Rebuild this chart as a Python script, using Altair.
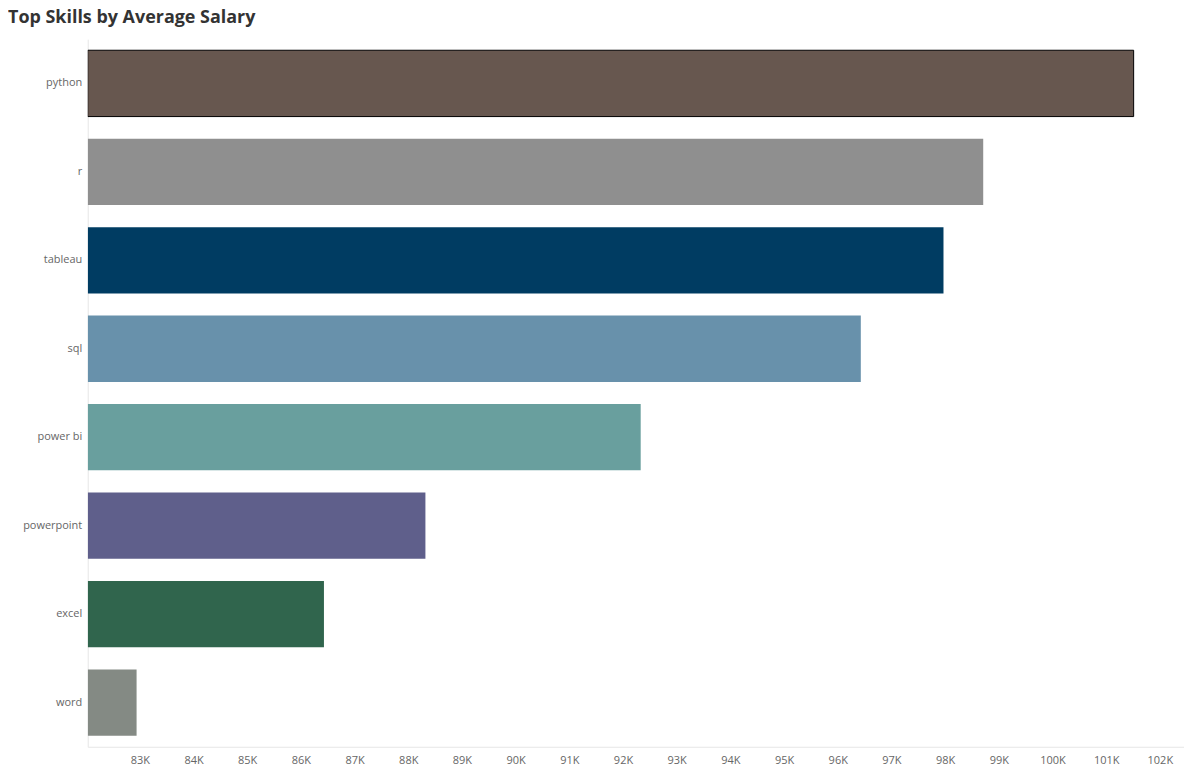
import altair as alt
import pandas as pd

# Average salary per skill (in thousands of dollars)
skills = ['python', 'r', 'tableau', 'sql', 'power bi', 'powerpoint', 'excel', 'word']
salaries = [101.512, 98.71, 97.97, 96.43, 92.33, 88.32, 86.43, 82.94]
colors = ['#67574f', '#8f8f8f', '#003c62', '#6891ab', '#699f9e', '#5f5f8b', '#30654d', '#848a84']
ticks = list(range(83, 103))

df = pd.DataFrame({'Skill': skills, 'Salary': salaries, 'Selected': [1] + [0] * 7})

chart = alt.Chart(df).mark_bar(clip=True, stroke='black').encode(
    x=alt.X('Salary:Q', scale=alt.Scale(domain=[82.03, 102.45], zero=False, nice=False),
            axis=alt.Axis(title=None, values=ticks, labelExpr="datum.value + 'K'",
                          grid=False, ticks=False, domainColor='#e6e6e6',
                          labelColor='#666666', labelFontSize=11, labelPadding=8)),
    x2=alt.datum(82.03),
    y=alt.Y('Skill:N', sort=skills, scale=alt.Scale(paddingInner=0.25, paddingOuter=0.125),
            axis=alt.Axis(title=None, ticks=False, domainColor='#e6e6e6', minExtent=80,
                          labelColor='#666666', labelFontSize=11, labelPadding=6)),
    color=alt.Color('Skill:N', scale=alt.Scale(domain=skills, range=colors), legend=None),
    strokeWidth=alt.condition('datum.Selected == 1', alt.value(1), alt.value(0)),
    tooltip=[alt.Tooltip('Skill:N'),
             alt.Tooltip('Salary:Q', title='Average Salary', format='.3f')],
).properties(
    width=1100,
    height=710,
    padding=0,
    title=alt.Title('Top Skills by Average Salary', anchor='start', fontSize=18,
                    fontWeight='bold', color='#333333', offset=12),
).configure(font='Open Sans').configure_view(stroke=None)

chart.save("out.html", embed_options={"renderer": "svg", "actions": False})
